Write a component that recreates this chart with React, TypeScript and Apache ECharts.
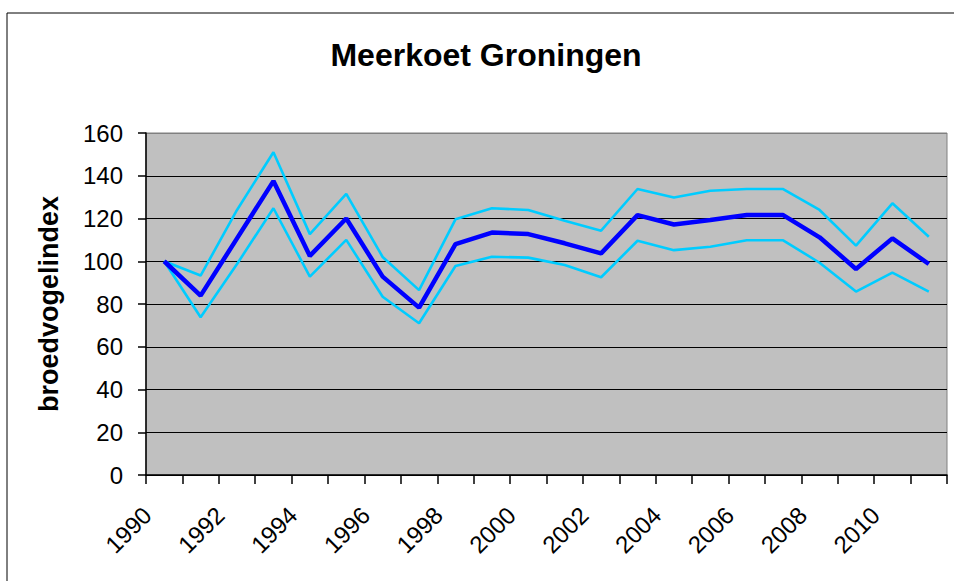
import React, { useEffect, useRef } from "react";
import * as echarts from "echarts";

const years = [
  "1990", "1991", "1992", "1993", "1994", "1995", "1996", "1997", "1998", "1999", "2000",
  "2001", "2002", "2003", "2004", "2005", "2006", "2007", "2008", "2009", "2010", "2011",
];
const indexValues = [
  100, 83.9, 110.7, 137.5, 102.5, 120, 92.8, 78.3, 108, 113.4, 112.7,
  108.4, 103.7, 121.6, 117.2, 119.3, 121.6, 121.6, 111.2, 96.4, 110.7, 98.7,
];
const upperValues = [
  100, 93.3, 124, 151, 112.7, 131.5, 102, 86.5, 119.6, 124.8, 124,
  119, 114.3, 133.8, 129.8, 133, 133.8, 133.8, 124, 107.3, 127.1, 111.5,
];
const lowerValues = [
  100, 73.8, 98.7, 124.8, 92.8, 110, 83.4, 71, 97.8, 102.1, 101.7,
  98.2, 92.5, 109.6, 105.2, 106.8, 109.8, 109.8, 99.3, 85.8, 94.7, 85.8,
];
const yTicks = [0, 20, 40, 60, 80, 100, 120, 140, 160];

const FONT = "'Liberation Sans', Arial, sans-serif";

export default function App() {
  const ref = useRef<HTMLDivElement>(null);
  useEffect(() => {
    if (!ref.current) return;
    const chart = echarts.init(ref.current, undefined, { renderer: "svg" });
    const splitColors = yTicks.map((v, i) => (i === yTicks.length - 1 ? "#808080" : "#000000"));
    chart.setOption({
      animation: false,
      backgroundColor: "#ffffff",
      title: {
        text: "Meerkoet Groningen",
        left: 481,
        top: 34,
        textAlign: "center",
        textStyle: { fontFamily: FONT, fontSize: 32, fontWeight: "bold", color: "#000" },
      },
      graphic: [
        {
          type: "rect",
          left: 4.5,
          top: 10.5,
          shape: { x: 0, y: 0, width: 1000, height: 1000 },
          style: { fill: "none", stroke: "#000", lineWidth: 1 },
          silent: true,
        },
      ],
      grid: {
        left: 146,
        top: 133,
        right: 7,
        bottom: 106,
        show: true,
        backgroundColor: "#C0C0C0",
        borderColor: "#808080",
        borderWidth: 1,
        containLabel: false,
      },
      xAxis: {
        type: "category",
        data: years,
        boundaryGap: true,
        axisLine: { show: true, lineStyle: { color: "#000", width: 1.5 } },
        axisTick: { show: true, interval: 0, length: 9, lineStyle: { color: "#000", width: 1.5 } },
        axisLabel: {
          interval: 1,
          rotate: 45,
          margin: 19,
          padding: [0, 24, 0, 0],
          fontFamily: FONT,
          fontSize: 24,
          color: "#000",
        },
        splitLine: { show: false },
      },
      yAxis: {
        type: "value",
        min: 0,
        max: 160,
        interval: 20,
        name: "broedvogelindex",
        nameLocation: "middle",
        nameGap: 84,
        nameTextStyle: { fontFamily: FONT, fontSize: 27, fontWeight: "bold", color: "#000" },
        axisLine: { show: true, lineStyle: { color: "#000", width: 1.5 } },
        axisTick: { show: true, length: 8, lineStyle: { color: "#000", width: 1.5 } },
        axisLabel: { margin: 23, fontFamily: FONT, fontSize: 24, color: "#000" },
        splitLine: { show: true, lineStyle: { color: splitColors, width: 1.2 } },
      },
      series: [
        {
          name: "upper",
          type: "line",
          data: upperValues,
          symbol: "none",
          lineStyle: { color: "#00CCFF", width: 2.6 },
          z: 2,
        },
        {
          name: "lower",
          type: "line",
          data: lowerValues,
          symbol: "none",
          lineStyle: { color: "#00CCFF", width: 2.6 },
          z: 2,
        },
        {
          name: "index",
          type: "line",
          data: indexValues,
          symbol: "none",
          lineStyle: { color: "#0000FF", width: 4.5 },
          z: 3,
        },
      ],
    });
    return () => chart.dispose();
  }, []);
  return (
    <div
      ref={ref}
      style={{ position: "absolute", left: 0, top: 0, width: 954, height: 581 }}
    />
  );
}
